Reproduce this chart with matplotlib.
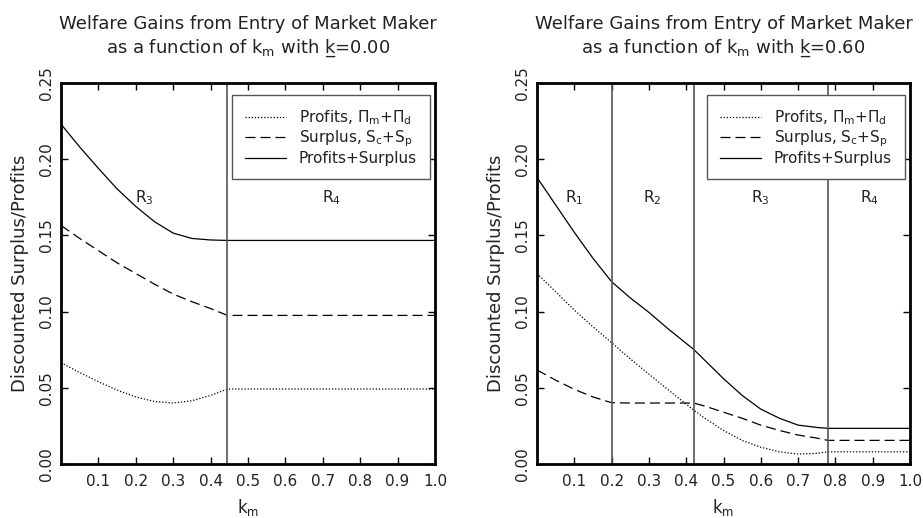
import matplotlib
matplotlib.use("Agg")
import matplotlib.pyplot as plt

# ---- data: left panel (k = 0.00) ----
km_left = [0.0, 0.05, 0.10, 0.15, 0.20, 0.25, 0.30, 0.35, 0.40, 0.445, 0.5, 0.6, 0.7, 0.8, 0.9, 1.0]
profits_left = [0.0665, 0.060, 0.054, 0.0485, 0.044, 0.041, 0.040, 0.0415, 0.045, 0.0492,
                0.0492, 0.0492, 0.0492, 0.0492, 0.0492, 0.0492]
surplus_left = [0.1565, 0.148, 0.140, 0.132, 0.125, 0.118, 0.1115, 0.1065, 0.102, 0.0975,
                0.0975, 0.0975, 0.0975, 0.0975, 0.0975, 0.0975]
total_left = [0.223, 0.208, 0.194, 0.1805, 0.169, 0.159, 0.1515, 0.148, 0.147, 0.1467,
              0.1467, 0.1467, 0.1467, 0.1467, 0.1467, 0.1467]
bounds_left = [0.445]
regions_left = ["R$_3$", "R$_4$"]

# ---- data: right panel (k = 0.60) ----
km_right = [0.0, 0.05, 0.10, 0.15, 0.20, 0.25, 0.30, 0.35, 0.42, 0.45, 0.50, 0.55, 0.60, 0.65,
            0.70, 0.75, 0.78, 0.9, 1.0]
profits_right = [0.125, 0.113, 0.101, 0.090, 0.0796, 0.069, 0.059, 0.049, 0.0354, 0.030, 0.022,
                 0.0155, 0.011, 0.008, 0.0065, 0.007, 0.008, 0.008, 0.008]
surplus_right = [0.0617, 0.055, 0.049, 0.044, 0.0402, 0.040, 0.040, 0.040, 0.040, 0.038, 0.034,
                 0.030, 0.0255, 0.022, 0.019, 0.017, 0.0155, 0.0155, 0.0155]
total_right = [0.188, 0.170, 0.152, 0.135, 0.1196, 0.109, 0.0995, 0.089, 0.0752, 0.068, 0.056,
               0.045, 0.036, 0.030, 0.0255, 0.024, 0.0234, 0.0234, 0.0234]
bounds_right = [0.2, 0.42, 0.78]
regions_right = ["R$_1$", "R$_2$", "R$_3$", "R$_4$"]

k_values = ["0.00", "0.60"]
title_line1 = "Welfare Gains from Entry of Market Maker"
labels = ["Profits, $\\Pi_\\mathrm{m}$+$\\Pi_\\mathrm{d}$",
          "Surplus, S$_\\mathrm{c}$+S$_\\mathrm{p}$",
          "Profits+Surplus"]
xticks = [0.1, 0.2, 0.3, 0.4, 0.5, 0.6, 0.7, 0.8, 0.9, 1.0]
yticks = [0.00, 0.05, 0.10, 0.15, 0.20, 0.25]

plt.rcParams['font.family'] = ['DejaVu Sans']
plt.rcParams['mathtext.fontset'] = 'dejavusans'
txt = '#222222'

fig = plt.figure(figsize=(9.23, 5.18), dpi=100)
W, H = 923, 518
axL = fig.add_axes([61 / W, (H - 464) / H, 374 / W, 381 / H])
axR = fig.add_axes([537 / W, (H - 464) / H, 373 / W, 381 / H])

panels = [
    (axL, km_left, profits_left, surplus_left, total_left, bounds_left, regions_left, k_values[0]),
    (axR, km_right, profits_right, surplus_right, total_right, bounds_right, regions_right, k_values[1]),
]

for ax, x, p, s, t, bounds, regs, kv in panels:
    ax.plot(x, p, color='black', lw=0.9, ls=(0, (1, 1.5)), label=labels[0])
    ax.plot(x, s, color='black', lw=0.9, ls=(0, (8, 4)), label=labels[1])
    ax.plot(x, t, color='black', lw=0.9, ls='-', label=labels[2])
    for b in bounds:
        ax.axvline(b, color='#555555', lw=1.2)
    edges = [0.0] + bounds + [1.0]
    for i, r in enumerate(regs):
        ax.text((edges[i] + edges[i + 1]) / 2, 0.175, r, ha='center', va='center',
                fontsize=11, color=txt)
    ax.set_xlim(0, 1.0)
    ax.set_ylim(0, 0.25)
    ax.set_xticks(xticks)
    ax.set_xticklabels([f"{v:.1f}" for v in xticks])
    ax.set_yticks(yticks)
    ax.set_yticklabels([f"{v:.2f}" for v in yticks], rotation=90, va='center')
    ax.tick_params(direction='in', length=5, width=1, top=True, right=True,
                   labelsize=11, labelcolor=txt, color='black')
    ax.tick_params(axis='x', pad=7)
    ax.tick_params(axis='y', pad=5)
    for sp in ax.spines.values():
        sp.set_linewidth(2)
    ax.set_xlabel("k$_\\mathrm{m}$", fontsize=12, color=txt, labelpad=6)
    ax.set_ylabel("Discounted Surplus/Profits", fontsize=13, color=txt, labelpad=7)
    title = title_line1 + "\nas a function of k$_\\mathrm{m}$ with k\u0332=" + kv
    ax.set_title(title, fontsize=13, color=txt, pad=22, linespacing=1.3)
    # legend box: right edge 5px inside axes, top 12px below axes top
    bb = ax.get_position()
    leg = ax.legend(loc='upper right', fontsize=11, frameon=True, fancybox=False,
                    edgecolor='#555555', handlelength=2.7, borderaxespad=0,
                    bbox_to_anchor=(1 - 5 / (bb.width * W), 1 - 12 / (bb.height * H)),
                    borderpad=0.85, labelspacing=0.12, handletextpad=0.85)
    leg.get_frame().set_linewidth(1.0)
    leg.get_frame().set_alpha(1)
    for tx in leg.get_texts():
        tx.set_color(txt)

fig.savefig("out.png", dpi=100)
